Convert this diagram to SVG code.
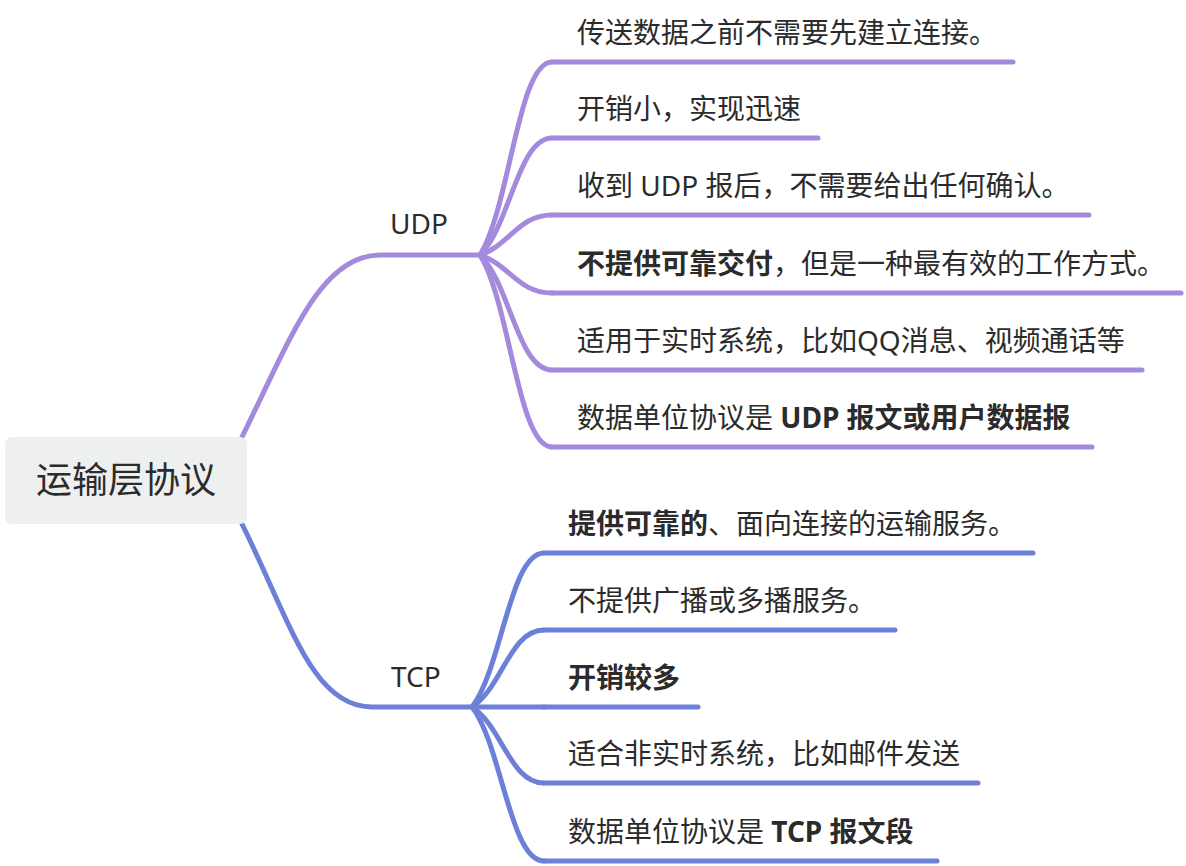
<svg xmlns="http://www.w3.org/2000/svg" width="1186" height="866" viewBox="0 0 1186 866">
<style>
.t{font-family:"Noto Sans","Noto Sans CJK SC",sans-serif;font-size:28px;fill:#2b2b2b}
.b{font-weight:700}
.root{font-family:"Noto Sans CJK SC","Noto Sans",sans-serif;font-size:36px;fill:#2b2b2b}
.u{fill:none;stroke:#a48adc;stroke-width:5;stroke-linecap:round;stroke-linejoin:round}
.c{fill:none;stroke:#6d80d8;stroke-width:5;stroke-linecap:round;stroke-linejoin:round}
</style>
<rect width="1186" height="866" fill="#ffffff"/>
<g id="connectors">
<path class="u" d="M242 437 C290 340 320 255 380 255 L480 255"/>
<path class="c" d="M242 524 C290 621 312 707 372 707 L472 707"/>
<path class="u" d="M480 255 C510 207 518 62 552 62"/>
<path class="u" d="M480 255 C510 226 518 138 552 138"/>
<path class="u" d="M480 255 C510 245 518 215 552 215"/>
<path class="u" d="M480 255 C510 265 518 293 552 293"/>
<path class="u" d="M480 255 C510 284 518 370 552 370"/>
<path class="u" d="M480 255 C510 303 518 447 552 447"/>
<path class="c" d="M472 707 C502 668 510 553 544 553"/>
<path class="c" d="M472 707 C502 688 510 630 544 630"/>
<path class="c" d="M472 707 L544 707"/>
<path class="c" d="M472 707 C502 726 510 783 544 783"/>
<path class="c" d="M472 707 C502 746 510 861 544 861"/>
</g>
<g id="root">
<rect x="5" y="437" width="242" height="87" rx="7" fill="#eeefef"/>
<text class="root" x="126" y="493" text-anchor="middle">运输层协议</text>
</g>
<g id="udp">
<text class="t" x="390" y="234">UDP</text>
</g>
<g id="tcp">
<text class="t" x="391" y="687">TCP</text>
</g>
<g id="udp1">
<text class="t" x="577" y="43">传送数据之前不需要先建立连接。</text>
<path class="u" d="M552 62 L1013 62"/>
</g>
<g id="udp2">
<text class="t" x="577" y="119">开销小，实现迅速</text>
<path class="u" d="M552 138 L818 138"/>
</g>
<g id="udp3">
<text class="t" x="577" y="196">收到 UDP 报后，不需要给出任何确认。</text>
<path class="u" d="M552 215 L1089 215"/>
</g>
<g id="udp4">
<text class="t" x="577" y="274"><tspan class="b">不提供可靠交付</tspan>，但是一种最有效的工作方式。</text>
<path class="u" d="M552 293 L1181 293"/>
</g>
<g id="udp5">
<text class="t" x="577" y="351">适用于实时系统，比如QQ消息、视频通话等</text>
<path class="u" d="M552 370 L1142 370"/>
</g>
<g id="udp6">
<text class="t" x="577" y="428">数据单位协议是 <tspan class="b">UDP 报文或用户数据报</tspan></text>
<path class="u" d="M552 447 L1092 447"/>
</g>
<g id="tcp1">
<text class="t" x="568" y="534"><tspan class="b">提供可靠的</tspan>、面向连接的运输服务。</text>
<path class="c" d="M544 553 L1033 553"/>
</g>
<g id="tcp2">
<text class="t" x="568" y="611">不提供广播或多播服务。</text>
<path class="c" d="M544 630 L895 630"/>
</g>
<g id="tcp3">
<text class="t b" x="568" y="688">开销较多</text>
<path class="c" d="M544 707 L698 707"/>
</g>
<g id="tcp4">
<text class="t" x="568" y="764">适合非实时系统，比如邮件发送</text>
<path class="c" d="M544 783 L978 783"/>
</g>
<g id="tcp5">
<text class="t" x="568" y="842">数据单位协议是 <tspan class="b">TCP 报文段</tspan></text>
<path class="c" d="M544 861 L937 861"/>
</g>
</svg>
